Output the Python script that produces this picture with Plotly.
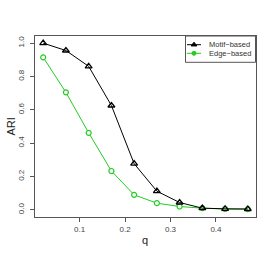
import plotly.graph_objects as go

q = [0.02, 0.07, 0.12, 0.17, 0.22, 0.27, 0.32, 0.37, 0.42, 0.47]
motif = [1.0, 0.956, 0.861, 0.626, 0.277, 0.112, 0.044, 0.010, 0.006, 0.005]
edge = [0.915, 0.705, 0.462, 0.233, 0.090, 0.040, 0.020, 0.010, 0.005, 0.004]
xticks = [0.1, 0.2, 0.3, 0.4]
yticks = [0.0, 0.2, 0.4, 0.6, 0.8, 1.0]
series_names = ["Motif\u2212based", "Edge\u2212based"]

FONT = "Liberation Sans, Arial, sans-serif"
GREEN = "#22cc22"
W, H = 273, 262
L, R, T, B = 35, 17, 36, 45

fig = go.Figure()
fig.add_trace(go.Scatter(x=q, y=edge, mode="lines+markers", name=series_names[1],
                         line=dict(color=GREEN, width=1),
                         marker=dict(symbol="circle", size=5, color="white",
                                     line=dict(width=1.2, color=GREEN))))
fig.add_trace(go.Scatter(x=q, y=motif, mode="lines+markers", name=series_names[0],
                         line=dict(color="black", width=1),
                         marker=dict(symbol="triangle-up-open", size=6, color="black",
                                     line=dict(width=1.3, color="black"))))

axis_common = dict(showline=True, linecolor="#555", linewidth=1, mirror=True,
                   showgrid=False, zeroline=False, ticks="outside", ticklen=4,
                   tickcolor="#555", tickfont=dict(size=8, color="#444", family=FONT),
                   automargin=False)

# ---- manual legend ----
def px(X):
    return (X - L) / (W - L - R)

def py(Y):
    return (H - B - Y) / (H - T - B)

leg_left, leg_right, leg_top, leg_bot = 185.5, 255.5, 36, 62.3
row_y = [44.7, 53.3]
sym_x0, sym_x1, txt_x = 187, 201, 207

shapes = [dict(type="rect", xref="paper", yref="paper",
               x0=px(leg_left), x1=px(leg_right), y0=py(leg_bot), y1=py(leg_top),
               line=dict(color="#555", width=1), fillcolor="white", layer="below")]
colors = ["black", GREEN]
for ry, c in zip(row_y, colors):
    shapes.append(dict(type="line", xref="paper", yref="paper",
                       x0=px(sym_x0), x1=px(sym_x1), y0=py(ry), y1=py(ry),
                       line=dict(color=c, width=1), layer="below"))

annotations = []
for ry, name in zip(row_y, series_names):
    annotations.append(dict(x=px(txt_x), y=py(ry), xref="paper", yref="paper",
                            text=name, showarrow=False, xanchor="left", yanchor="middle",
                            font=dict(size=7.5, color="#333", family=FONT)))
annotations.append(dict(x=px(145), y=py(240), xref="paper", yref="paper", text="q",
                        showarrow=False, xanchor="center", yanchor="middle",
                        font=dict(size=11, color="#222", family=FONT)))
annotations.append(dict(x=px(10), y=py(126.5), xref="paper", yref="paper", text="ARI",
                        showarrow=False, xanchor="center", yanchor="middle", textangle=-90,
                        font=dict(size=11, color="#222", family=FONT)))

mid = (sym_x0 + sym_x1) / 2
fig.add_trace(go.Scatter(x=[mid], y=[row_y[0]], xaxis="x2", yaxis="y2", mode="markers",
                         showlegend=False, hoverinfo="skip",
                         marker=dict(symbol="triangle-up", size=5, color="black",
                                     line=dict(width=1, color="black"))))
fig.add_trace(go.Scatter(x=[mid], y=[row_y[1]], xaxis="x2", yaxis="y2", mode="markers",
                         showlegend=False, hoverinfo="skip",
                         marker=dict(symbol="circle", size=4, color=GREEN,
                                     line=dict(width=1, color=GREEN))))

fig.update_layout(
    width=W, height=H,
    margin=dict(l=L, r=R, t=T, b=B),
    paper_bgcolor="white", plot_bgcolor="white",
    font=dict(family=FONT),
    xaxis=dict(range=[0.002, 0.488], tickvals=xticks, ticktext=[str(v) for v in xticks],
               **axis_common),
    yaxis=dict(range=[-0.043, 1.043], tickvals=yticks, ticktext=[f"{v:.1f}" for v in yticks],
               tickangle=-90, ticklabelstandoff=3, **axis_common),
    xaxis2=dict(range=[L, W - R], overlaying="x", visible=False, fixedrange=True),
    yaxis2=dict(range=[H - B, T], overlaying="y", visible=False, fixedrange=True),
    shapes=shapes,
    annotations=annotations,
    showlegend=False,
)

fig.write_html("out.html", config={"displayModeBar": False},
               post_script="document.body.style.margin='0';")
